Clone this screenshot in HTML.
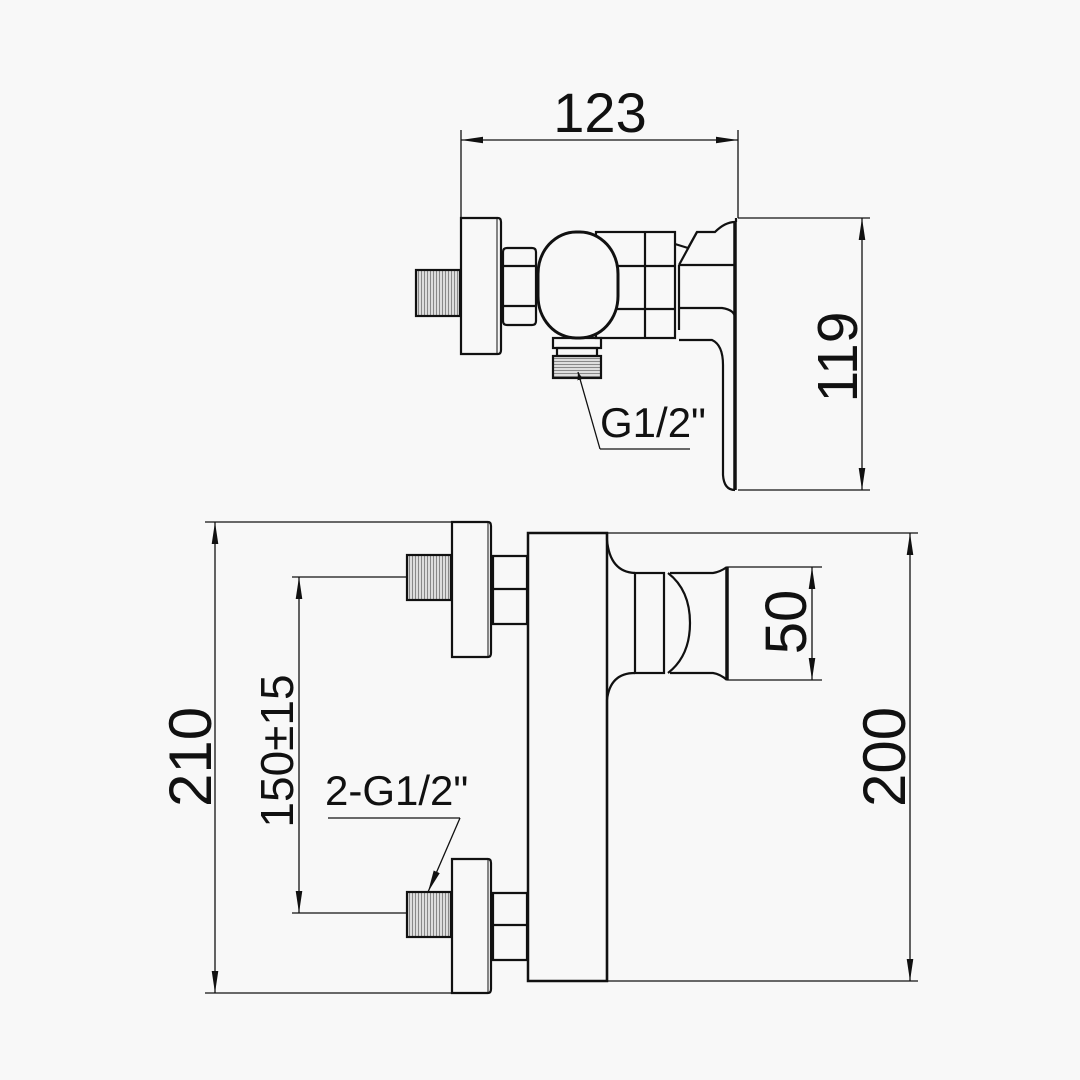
<!DOCTYPE html>
<html><head><meta charset="utf-8"><style>
html,body{margin:0;padding:0;background:#f8f8f8;}
svg{display:block}
text{font-family:"Liberation Sans",Arial,sans-serif;fill:#111}
</style></head><body>
<svg width="1080" height="1080" viewBox="0 0 1080 1080" xmlns="http://www.w3.org/2000/svg">
<defs>
<pattern id="th" width="3" height="4" patternUnits="userSpaceOnUse"><rect width="3" height="4" fill="#ddd"/><line x1="1.5" y1="0" x2="1.5" y2="4" stroke="#888" stroke-width="1"/></pattern>
<pattern id="tv" width="4" height="3" patternUnits="userSpaceOnUse"><rect width="4" height="3" fill="#ddd"/><line x1="0" y1="1.5" x2="4" y2="1.5" stroke="#888" stroke-width="1"/></pattern>
<marker id="a" viewBox="0 0 10 10" refX="10" refY="5" markerWidth="8" markerHeight="8" markerUnits="userSpaceOnUse" orient="auto-start-reverse"><path d="M0,1.5 L10,5 L0,8.5 z" fill="#111"/></marker>
<marker id="b" viewBox="0 0 20 10" refX="20" refY="5" markerWidth="22" markerHeight="11" markerUnits="userSpaceOnUse" orient="auto-start-reverse"><path d="M0,2 L20,5 L0,8 z" fill="#111"/></marker>
</defs>
<rect width="1080" height="1080" fill="#f8f8f8"/>
<g fill="none" stroke="#111" stroke-width="1.3">
<!-- TOP VIEW -->
<line x1="461" y1="130" x2="461" y2="218"/>
<line x1="738" y1="130" x2="738" y2="218"/>
<line x1="461" y1="140" x2="738" y2="140" marker-start="url(#b)" marker-end="url(#b)"/>
<line x1="738" y1="218" x2="870" y2="218"/>
<line x1="738" y1="490" x2="870" y2="490"/>
<line x1="862" y1="218" x2="862" y2="490" marker-start="url(#b)" marker-end="url(#b)"/>
<g stroke-width="2.2">
<path d="M461,218 H498 Q501,218 501,222 V350 Q501,354 498,354 H461 Z"/>
<line x1="497" y1="218" x2="497" y2="354" stroke-width="1"/>
<rect x="416" y="270" width="44" height="46" fill="url(#th)"/>
<path d="M503,252 Q503,248 507,248 H532 Q536,248 536,252 V321 Q536,325 532,325 H507 Q503,325 503,321 Z"/>
<line x1="503" y1="266" x2="536" y2="266"/><line x1="503" y1="306" x2="536" y2="306"/>
<rect x="596" y="232" width="79" height="106"/>
<line x1="645" y1="232" x2="645" y2="338"/>
<line x1="600" y1="266" x2="675" y2="266"/>
<line x1="600" y1="309" x2="675" y2="309"/>
<rect x="538" y="232" width="80" height="106" rx="38" ry="42" fill="#f8f8f8" stroke-width="3"/>
<path d="M675,244 L688,248 L697,232 H715 Q725,222 735,222"/>
<path d="M679,265 L697,232"/>
<path d="M679,265 V330"/>
<path d="M679,265 H735"/>
<path d="M679,308 H722 Q735,310 735,318"/>
<path d="M679,340 H712 Q723,345 723,365 V475 Q724,490 735,490"/>
<line x1="735" y1="222" x2="735" y2="490" stroke-width="3.5"/>
<line x1="736" y1="218" x2="736" y2="222"/>
<rect x="553" y="338" width="48" height="10"/>
<rect x="557" y="348" width="40" height="8"/>
<rect x="553" y="356" width="48" height="22" fill="url(#tv)"/>
</g>
<path d="M600,449 L578,372" marker-end="url(#a)"/>
<line x1="600" y1="449" x2="690" y2="449"/>
<!-- BOTTOM VIEW -->
<line x1="205" y1="522" x2="490" y2="522"/>
<line x1="205" y1="993" x2="455" y2="993"/>
<line x1="215" y1="522" x2="215" y2="993" marker-start="url(#b)" marker-end="url(#b)"/>
<line x1="292" y1="577" x2="407" y2="577"/>
<line x1="292" y1="913" x2="407" y2="913"/>
<line x1="299" y1="577" x2="299" y2="913" marker-start="url(#b)" marker-end="url(#b)"/>
<line x1="328" y1="818" x2="460" y2="818"/>
<line x1="460" y1="818" x2="428" y2="892" marker-end="url(#b)"/>
<line x1="607" y1="533" x2="918" y2="533"/>
<line x1="607" y1="981" x2="918" y2="981"/>
<line x1="910" y1="533" x2="910" y2="981" marker-start="url(#b)" marker-end="url(#b)"/>
<line x1="727" y1="567" x2="822" y2="567"/>
<line x1="727" y1="680" x2="822" y2="680"/>
<line x1="812" y1="567" x2="812" y2="680" marker-start="url(#b)" marker-end="url(#b)"/>
<g stroke-width="2.2">
<path d="M452,522 H488 Q491,522 491,526 V653 Q491,657 488,657 H452 Z"/>
<line x1="488" y1="522" x2="488" y2="657" stroke-width="1"/>
<rect x="407" y="555" width="44" height="45" fill="url(#th)"/>
<path d="M493,556 H527 V624 H493 Z"/><line x1="493" y1="589" x2="527" y2="589"/>
<path d="M452,859 H488 Q491,859 491,863 V989 Q491,993 488,993 H452 Z"/>
<line x1="488" y1="859" x2="488" y2="993" stroke-width="1"/>
<rect x="407" y="892" width="44" height="45" fill="url(#th)"/>
<path d="M493,893 H527 V960 H493 Z"/><line x1="493" y1="925" x2="527" y2="925"/>
<rect x="528" y="533" width="79" height="448" stroke-width="2.5"/>
<path d="M607,533 V540 Q610,572 635,573"/>
<path d="M635,673 Q610,673 607,700 V981"/>
<rect x="635" y="573" width="29" height="100"/>
<path d="M668,573 Q690,590 690,623 Q690,656 668,673"/>
<path d="M670,573 H713 Q720,572 727,567"/>
<path d="M670,673 H713 Q720,674 727,680"/>
<line x1="727" y1="567" x2="727" y2="680" stroke-width="3.5"/>
</g>
</g>
<text x="600" y="132" font-size="56" text-anchor="middle">123</text>
<text x="600" y="437" font-size="42">G1/2"</text>
<text transform="translate(857,357) rotate(-90)" font-size="57" text-anchor="middle">119</text>
<text transform="translate(211,757) rotate(-90)" font-size="60" text-anchor="middle">210</text>
<text transform="translate(293,751) rotate(-90)" font-size="46" text-anchor="middle">150±15</text>
<text x="325" y="805" font-size="42">2-G1/2"</text>
<text transform="translate(806,622) rotate(-90)" font-size="58" text-anchor="middle">50</text>
<text transform="translate(905,757) rotate(-90)" font-size="60" text-anchor="middle">200</text>
</svg>
</body></html>
